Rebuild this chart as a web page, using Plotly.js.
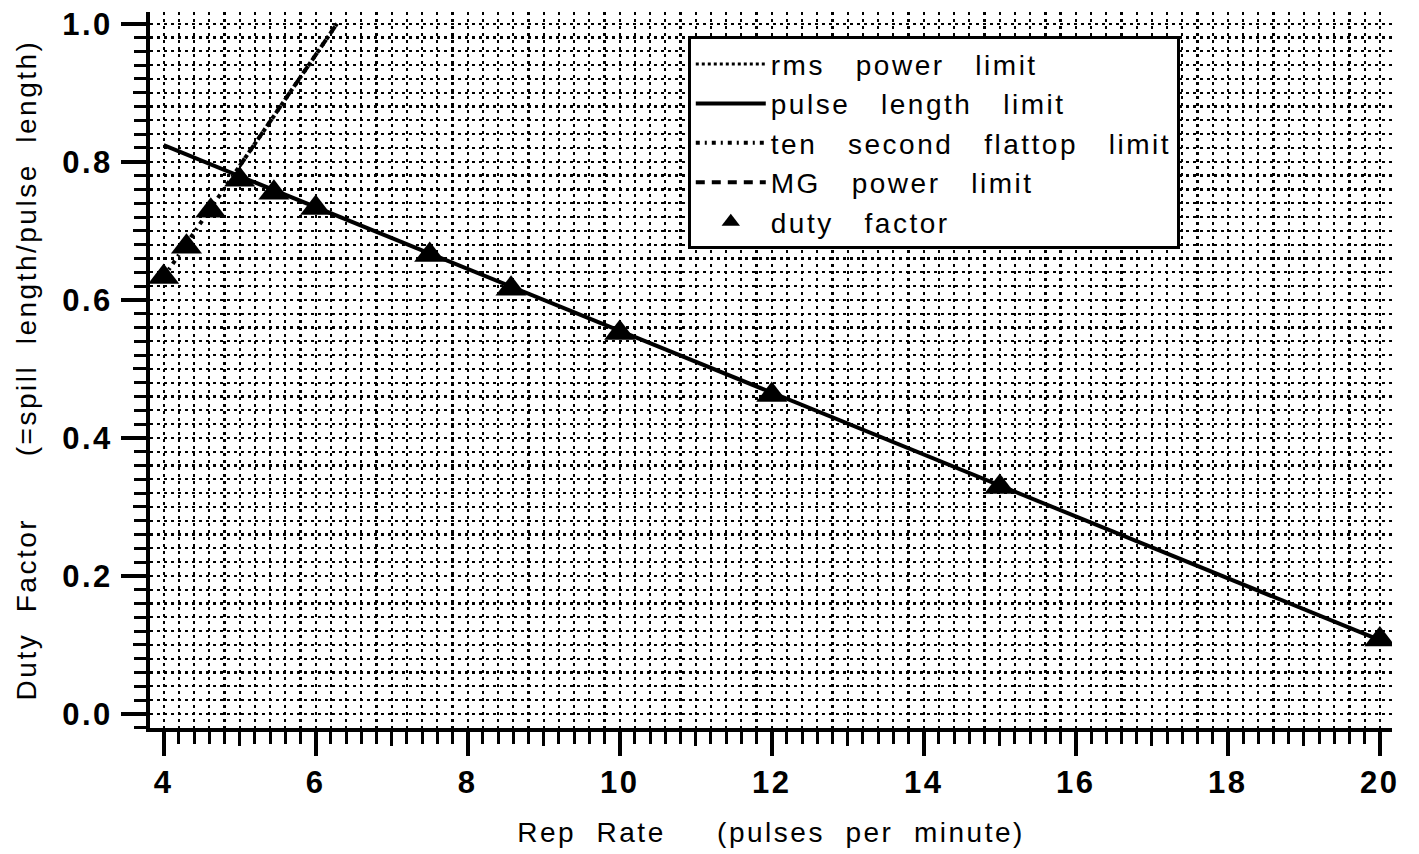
<!DOCTYPE html>
<html>
<head>
<meta charset="utf-8">
<script src="https://cdn.plot.ly/plotly-3.0.1.min.js"></script>
<style>html,body{margin:0;padding:0;background:#fff;}#chart{width:1419px;height:854px;} svg text{letter-spacing:2.5px;}</style>
</head>
<body>
<div id="chart"></div>
<script>
// Data
const repRate = [4, 4.3, 4.62, 5, 5.45, 6, 7.5, 8.57, 10, 12, 15, 20];
const dutyFactor = [0.633, 0.677, 0.729, 0.774, 0.755, 0.733, 0.665, 0.616, 0.552, 0.462, 0.329, 0.108];
const pulseLimitX = [4, 20];
const pulseLimitY = [0.824, 0.107];
const flattopX = [4, 6.28];
const flattopY = [0.633, 1.0];
const mgX = [5, 6.28];
const mgY = [0.794, 1.0];
const xTickVals = [4, 6, 8, 10, 12, 14, 16, 18, 20];
const yTickVals = [0, 0.2, 0.4, 0.6, 0.8, 1.0];
const yTickText = ['0.0', '0.2', '0.4', '0.6', '0.8', '1.0'];

const S = '\u00A0';
const S2 = S + S;
const S3 = S + S + S;
const FONT = 'Liberation Sans, Arial, Helvetica, sans-serif';

const traces = [
  {x: [null], y: [null], mode: 'lines', name: 'rms' + S3 + 'power' + S3 + 'limit',
   line: {color: 'black', width: 3, dash: 'dot'}},
  {x: pulseLimitX, y: pulseLimitY, mode: 'lines', name: 'pulse' + S3 + 'length' + S3 + 'limit',
   line: {color: 'black', width: 4}},
  {x: flattopX, y: flattopY, mode: 'lines', name: 'ten' + S3 + 'second' + S3 + 'flattop' + S3 + 'limit',
   line: {color: 'black', width: 4, dash: '4px,5px,2px,5px'}},
  {x: mgX, y: mgY, mode: 'lines', name: 'MG' + S3 + 'power' + S3 + 'limit',
   line: {color: 'black', width: 4, dash: '9px,7px'}},
  {x: repRate, y: dutyFactor, mode: 'markers', name: 'duty' + S3 + 'factor',
   marker: {symbol: 'triangle-up', size: 27, color: 'black'}}
];

const gridDash = '3px,4px';
const GW = 2.2;
const layout = {
  width: 1419, height: 854,
  margin: {l: 150, r: 27, t: 12, b: 126},
  paper_bgcolor: 'white', plot_bgcolor: 'white',
  font: {family: FONT, color: 'black'},
  showlegend: true,
  legend: {
    x: 0.433, y: 0.966, xanchor: 'left', yanchor: 'top',
    bgcolor: 'white', bordercolor: 'black', borderwidth: 3,
    font: {family: FONT, size: 28, color: 'black'},
    tracegroupgap: 0, itemwidth: 70
  },
  xaxis: {
    range: [3.82, 20.16],
    tickmode: 'array', tickvals: xTickVals,
    ticks: 'outside', ticklen: 24, tickwidth: 4, tickcolor: 'black',
    tickfont: {family: FONT, size: 31, color: 'black', weight: 'bold'},
    ticklabelstandoff: 0,
    showline: true, linecolor: 'black', linewidth: 4,
    showgrid: true, gridcolor: 'black', gridwidth: GW, griddash: gridDash,
    zeroline: false,
    minor: {dtick: 0.2, tick0: 4, ticks: 'outside', ticklen: 12, tickwidth: 3, tickcolor: 'black',
            showgrid: true, gridcolor: 'black', gridwidth: GW, griddash: gridDash},
    title: {text: 'Rep' + S2 + 'Rate' + S2 + S2 + S + '(pulses' + S2 + 'per' + S2 + 'minute)',
            font: {family: FONT, size: 28, color: 'black'}, standoff: 24}
  },
  yaxis: {
    range: [-0.0203, 1.017],
    tickmode: 'array', tickvals: yTickVals, ticktext: yTickText,
    ticks: 'outside', ticklen: 25, tickwidth: 4, tickcolor: 'black',
    tickfont: {family: FONT, size: 31, color: 'black', weight: 'bold'},
    ticklabelstandoff: 2,
    showline: true, linecolor: 'black', linewidth: 4,
    showgrid: true, gridcolor: 'black', gridwidth: GW, griddash: gridDash,
    zeroline: false,
    minor: {dtick: 0.02, tick0: 0, ticks: 'outside', ticklen: 12, tickwidth: 3, tickcolor: 'black',
            showgrid: true, gridcolor: 'black', gridwidth: GW, griddash: gridDash},
    title: {text: 'Duty' + S2 + 'Factor' + S2 + S2 + S2 + '(=spill' + S2 + 'length/pulse' + S2 + 'length)',
            font: {family: FONT, size: 28, color: 'black'}, standoff: 18}
  },
  xaxis2: {
    overlaying: 'x', matches: 'x', anchor: 'y', side: 'bottom',
    tickmode: 'linear', tick0: 5, dtick: 2,
    ticks: 'outside', ticklen: 17, tickwidth: 3, tickcolor: 'black',
    showticklabels: false, showgrid: false, zeroline: false, showline: false
  },
  yaxis2: {
    overlaying: 'y', matches: 'y', anchor: 'x', side: 'left',
    tickmode: 'linear', tick0: 0.1, dtick: 0.2,
    ticks: 'outside', ticklen: 16, tickwidth: 3, tickcolor: 'black',
    showticklabels: false, showgrid: false, zeroline: false, showline: false
  }
};

// helper trace that activates the secondary tick-only axes (no visible marks)
traces.push({x: [null], y: [null], xaxis: 'x2', yaxis: 'y2', mode: 'lines', showlegend: false, hoverinfo: 'skip'});

Plotly.newPlot('chart', traces, layout, {displayModeBar: false, staticPlot: true});
</script>
</body>
</html>
